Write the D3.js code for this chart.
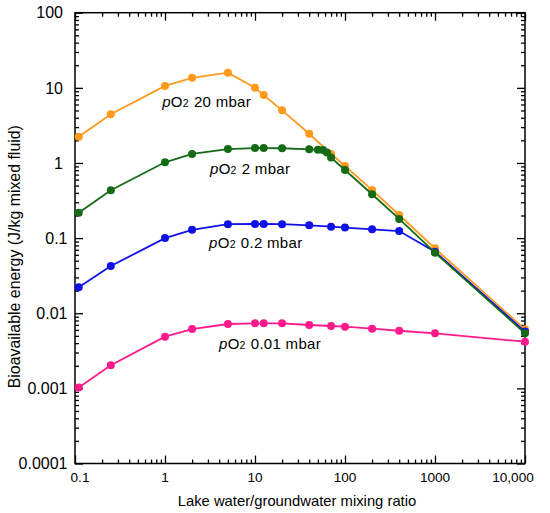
<!DOCTYPE html>
<html>
<head>
  <meta charset="utf-8">
  <title>Bioavailable energy vs mixing ratio</title>
  <script src="https://d3js.org/d3.v7.min.js"></script>
  <style>
    body { margin: 0; background: #fff; }
    text { font-family: "Liberation Sans", Arial, sans-serif; fill: #000; }
  </style>
</head>
<body>
<div id="chart"></div>
<script type="text/javascript">
  // mixing ratios (lake water / groundwater)
  const ratio = [0.11, 0.25, 1, 2, 5, 10, 12.5, 20, 40, 70, 100, 200, 400, 1000, 10000];
  const ratio2 = [0.11, 0.25, 1, 2, 5, 10, 12.5, 20, 40, 50, 57, 63, 70, 100, 200, 400, 1000, 10000];

  // bioavailable energy (J/kg mixed fluid) for each pO2
  const e20 = [2.24, 4.44, 10.6, 13.6, 15.9, 10.0, 8.0, 5.02, 2.45, 1.32, 0.91, 0.436, 0.203, 0.073, 0.0061];
  const e2 = [0.218, 0.433, 1.02, 1.32, 1.53, 1.58, 1.58, 1.57, 1.52, 1.50, 1.49, 1.38, 1.18, 0.806, 0.383, 0.180, 0.064, 0.0054];
  const e02 = [0.0221, 0.0425, 0.100, 0.129, 0.153, 0.154, 0.154, 0.153, 0.148, 0.142, 0.138, 0.131, 0.124, 0.066, 0.0057];
  const e001 = [0.00103, 0.00203, 0.00487, 0.00616, 0.00719, 0.00734, 0.00734, 0.00734, 0.00697, 0.00676, 0.00662, 0.00622, 0.00585, 0.00541, 0.00418];

  // tick values and labels
  const xMajor = [0.1, 1, 10, 100, 1000, 10000];
  const xLabels = ['0.1', '1', '10', '100', '1000', '10,000'];
  const yMajor = [0.0001, 0.001, 0.01, 0.1, 1, 10, 100];
  const yLabels = ['0.0001', '0.001', '0.01', '0.1', '1', '10', '100'];

  // label text and where it starts (data space)
  const seriesNames = ['20 mbar', '2 mbar', '0.2 mbar', '0.01 mbar'];
  const labelAt = [[0.93, 5.56], [3.16, 0.713], [3.09, 0.0738], [3.98, 0.00329]];

  const colors = ['#ff9a1c', '#156b15', '#1010e8', '#ff1a8c'];

  let margin = {top: 12.7, right: 25, bottom: 49.5, left: 75};
  let w = 550 - margin.left - margin.right;
  let h = 513 - margin.top - margin.bottom;

  let svg = d3.select('#chart')
      .append('svg')
        .attr('width', 550)
        .attr('height', 513)
      .append('g')
        .attr('transform', `translate(${margin.left},${margin.top})`);

  let xScale = d3.scaleLog().domain([0.1, 10000]).range([0, w]);
  let yScale = d3.scaleLog().domain([0.0001, 100]).range([h, 0]);

  // minor ticks 2..9 in each decade
  const minorOf = majors => majors.slice(0, -1).flatMap(d => d3.range(2, 10).map(k => d * k));
  const xMinor = minorOf(xMajor);
  const yMinor = minorOf(yMajor);

  function ticks(axisFn, scale, vals, size, tr) {
    svg.append('g')
       .attr('transform', tr)
       .call(axisFn(scale).tickValues(vals).tickSize(size).tickFormat(''))
       .call(g => g.select('.domain').remove())
       .selectAll('line').attr('stroke', '#000').attr('stroke-width', 1.3);
  }

  // inward ticks on all four sides
  ticks(d3.axisBottom, xScale, xMajor, -8, `translate(0,${h})`);
  ticks(d3.axisBottom, xScale, xMinor, -4, `translate(0,${h})`);
  ticks(d3.axisTop, xScale, xMajor, -8, 'translate(0,0)');
  ticks(d3.axisTop, xScale, xMinor, -4, 'translate(0,0)');
  ticks(d3.axisLeft, yScale, yMajor, -8, 'translate(0,0)');
  ticks(d3.axisLeft, yScale, yMinor, -4, 'translate(0,0)');
  ticks(d3.axisRight, yScale, yMajor, -8, `translate(${w},0)`);
  ticks(d3.axisRight, yScale, yMinor, -4, `translate(${w},0)`);

  // frame
  svg.append('rect')
     .attr('width', w).attr('height', h)
     .attr('fill', 'none').attr('stroke', '#000').attr('stroke-width', 1.5);

  // tick labels
  svg.selectAll('.xlab')
     .data(xMajor)
     .enter()
     .append('text')
     .attr('class', 'xlab')
     .attr('x', (d, i) => xScale(d) + (i === 0 ? 5 : i === xMajor.length - 1 ? -12 : 0))
     .attr('y', h + 19)
     .attr('text-anchor', 'middle')
     .attr('font-size', '13.6px')
     .text((d, i) => xLabels[i]);

  svg.selectAll('.ylab')
     .data(yMajor)
     .enter()
     .append('text')
     .attr('class', 'ylab')
     .attr('x', d => d >= 1 ? -12 : -7.5)
     .attr('y', d => yScale(d))
     .attr('dy', '0.36em')
     .attr('text-anchor', 'end')
     .attr('font-size', '16px')
     .text((d, i) => yLabels[i]);

  // axis titles
  svg.append('text')
     .attr('x', 222)
     .attr('y', h + 42.5)
     .attr('text-anchor', 'middle')
     .attr('font-size', '14.8px')
     .text('Lake water/groundwater mixing ratio');

  svg.append('text')
     .attr('transform', `translate(${-55.5},${244}) rotate(-90)`)
     .attr('text-anchor', 'middle')
     .attr('font-size', '15.9px')
     .text('Bioavailable energy (J/kg mixed fluid)');

  // series: pink, orange, blue, green (green on top)
  const series = [
    {x: ratio, y: e001, c: colors[3]},
    {x: ratio, y: e20, c: colors[0]},
    {x: ratio, y: e02, c: colors[2]},
    {x: ratio2, y: e2, c: colors[1]}
  ];

  let line = d3.line()
      .x(d => xScale(d[0]))
      .y(d => yScale(d[1]));

  series.forEach(s => {
    const pts = s.x.map((v, i) => [v, s.y[i]]);
    svg.append('path')
       .datum(pts)
       .attr('d', line)
       .attr('fill', 'none')
       .attr('stroke', s.c)
       .attr('stroke-width', 1.8);
    svg.append('g')
       .selectAll('circle')
       .data(pts)
       .enter()
       .append('circle')
       .attr('cx', d => xScale(d[0]))
       .attr('cy', d => yScale(d[1]))
       .attr('r', 4)
       .attr('fill', s.c);
  });

  // series labels: italic p, O, small 2
  labelAt.forEach(([lx, ly], i) => {
    let t = svg.append('text')
       .attr('x', xScale(lx))
       .attr('y', yScale(ly))
       .attr('font-size', '15px')
       .attr('letter-spacing', '0.3px');
    t.append('tspan').attr('font-style', 'italic').text('p');
    t.append('tspan').text('O');
    t.append('tspan').attr('font-size', '10.5px').text('2');
    t.append('tspan').attr('dx', 5).text(seriesNames[i]);
  });
</script>
</body>
</html>
